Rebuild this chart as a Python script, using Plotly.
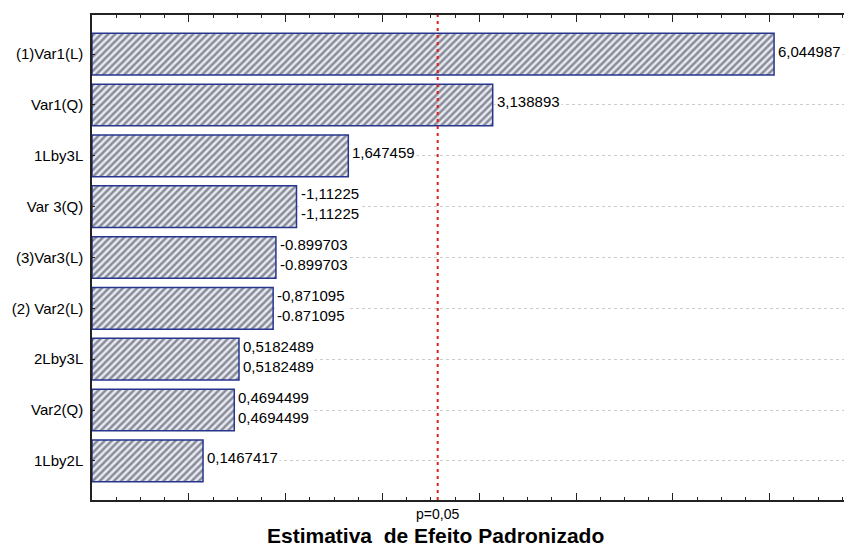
import plotly.graph_objects as go

categories = ["(1)Var1(L)", "Var1(Q)", "1Lby3L", "Var 3(Q)", "(3)Var3(L)",
              "(2) Var2(L)", "2Lby3L", "Var2(Q)", "1Lby2L"]
effects = [6.044987, 3.138893, 1.647459, -1.11225, -0.899703,
           -0.871095, 0.5182489, 0.4694499, 0.1467417]
labels_upper = ["6,044987", "3,138893", "1,647459", "-1,11225", "-0.899703",
                "-0,871095", "0,5182489", "0,4694499", "0,1467417"]
labels_lower = [None, None, None, "-1,11225", "-0.899703",
                "-0.871095", "0,5182489", "0,4694499", None]
p_value_t = 2.5706
p_label = "p=0,05"
x_title = "Estimativa\u00a0 de Efeito Padronizado"

abs_eff = [abs(v) for v in effects]
n = len(categories)
font = "Liberation Sans, Arial, sans-serif"
axis_start = -1

fig = go.Figure()
fig.add_trace(go.Bar(
    x=[v - axis_start for v in abs_eff], y=list(range(n)), orientation="h",
    width=0.82, base=axis_start,
    marker=dict(
        color="#e6e8f0",
        line=dict(color="#27358f", width=1.5),
        pattern=dict(shape="/", fgcolor="#2a2d40", bgcolor="#e8eaf1",
                     size=5, solidity=0.5),
    ),
    hoverinfo="skip",
))

lab_font = dict(family=font, size=15, color="black")
annotations = []
for i in range(n):
    if labels_lower[i] is None:
        annotations.append(dict(x=abs_eff[i], y=i, xref="x", yref="y",
                                text=labels_upper[i], showarrow=False,
                                xanchor="left", xshift=2, yshift=3,
                                bgcolor="white", font=lab_font))
    else:
        annotations.append(dict(x=abs_eff[i], y=i, xref="x", yref="y",
                                text=labels_upper[i], showarrow=False,
                                xanchor="left", xshift=2, yshift=13,
                                bgcolor="white", font=lab_font))
        annotations.append(dict(x=abs_eff[i], y=i, xref="x", yref="y",
                                text=labels_lower[i], showarrow=False,
                                xanchor="left", xshift=2, yshift=-7,
                                bgcolor="white", font=lab_font))

annotations.append(dict(x=p_value_t, y=0, xref="x", yref="paper",
                        text=p_label, showarrow=False, yanchor="top", yshift=-4,
                        font=dict(family=font, size=14, color="black")))
annotations.append(dict(x=0.452, y=0, xref="paper", yref="paper",
                        text="<b>" + x_title + "</b>", showarrow=False,
                        yanchor="top", yshift=-22,
                        font=dict(family=font, size=21, color="black")))

fig.add_shape(type="line", x0=p_value_t, x1=p_value_t, y0=0, y1=1,
              xref="x", yref="paper",
              line=dict(color="#e0201a", width=2, dash="3px,4px"), layer="above")

# page body has an 8px margin: figure is sized/placed to compensate
fig.update_layout(
    width=844, height=541,
    margin=dict(l=84, r=0, t=7, b=49, autoexpand=False),
    paper_bgcolor="white", plot_bgcolor="white",
    showlegend=False,
    annotations=annotations,
    xaxis=dict(
        range=[-1, 6.85], tick0=0, dtick=1, automargin=False,
        showticklabels=False, ticks="inside", ticklen=7, tickcolor="#222",
        minor=dict(dtick=0.25, ticks="inside", ticklen=3, tickcolor="#222"),
        showline=True, linecolor="#222", linewidth=1.5, mirror="ticks",
        showgrid=False, zeroline=False,
    ),
    yaxis=dict(
        range=[n - 1 + 0.77, -0.77], automargin=False,
        tickvals=list(range(n)), ticktext=categories,
        ticks="inside", ticklen=3, tickcolor="#222", ticklabelstandoff=4,
        tickfont=dict(family=font, size=15, color="black"),
        showline=True, linecolor="#222", linewidth=1.5,
        showgrid=True, gridcolor="#cccccc", griddash="dot", gridwidth=1,
        zeroline=False,
    ),
)

fig.write_html("out.html")
